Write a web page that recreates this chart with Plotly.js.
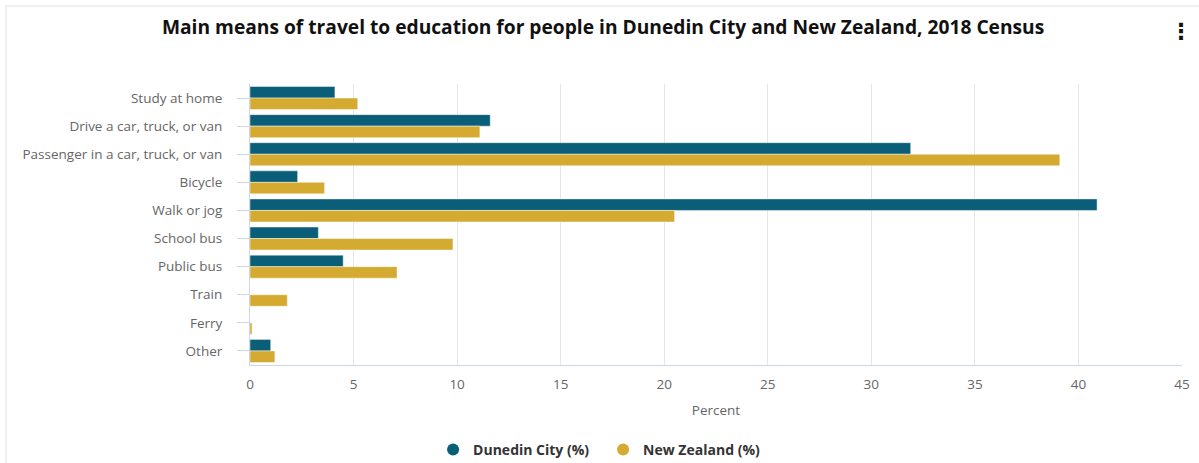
<!DOCTYPE html>
<html>
<head>
<meta charset="utf-8">
<script src="https://cdn.plot.ly/plotly-3.0.1.min.js"></script>
<style>
  html, body { margin: 0; padding: 0; background: #ffffff; }
  #frame { position: absolute; left: 5px; top: 5px; width: 1194px; height: 458px;
           border-left: 2px solid #f0f0f0; border-top: 2px solid #f0f0f0; box-sizing: border-box; }
  #chart { position: absolute; left: 0; top: 0; width: 1199px; height: 463px; }
</style>
</head>
<body>
<div id="frame"></div>
<div id="chart"></div>
<script>
const categories = [
  "Study at home",
  "Drive a car, truck, or van",
  "Passenger in a car, truck, or van",
  "Bicycle",
  "Walk or jog",
  "School bus",
  "Public bus",
  "Train",
  "Ferry",
  "Other"
];
const dunedinCity = [4.1, 11.6, 31.9, 2.3, 40.9, 3.3, 4.5, 0, 0, 1.0];
const newZealand  = [5.2, 11.1, 39.1, 3.6, 20.5, 9.8, 7.1, 1.8, 0.1, 1.2];
const seriesNames = ["Dunedin City (%)", "New Zealand (%)"];
const seriesColors = ["#0b5e77", "#d4ab30"];
const titleText = "Main means of travel to education for people in Dunedin City and New Zealand, 2018 Census";
const xTitle = "Percent";

const font = "'Open Sans', Lato, sans-serif";

const traces = [
  {
    type: "bar", orientation: "h", name: seriesNames[0],
    y: categories, x: dunedinCity, showlegend: false,
    marker: { color: seriesColors[0], line: { color: "rgba(255,255,255,0.45)", width: 1 } },
    hoverinfo: "x+y"
  },
  {
    type: "bar", orientation: "h", name: seriesNames[1],
    y: categories, x: newZealand, showlegend: false,
    marker: { color: seriesColors[1], line: { color: "rgba(255,255,255,0.45)", width: 1 } },
    hoverinfo: "x+y"
  },
  {
    type: "scatter", mode: "markers", name: seriesNames[0],
    x: [null], y: [null], showlegend: true,
    marker: { color: seriesColors[0], size: 16, symbol: "circle" }
  },
  {
    type: "scatter", mode: "markers", name: seriesNames[1],
    x: [null], y: [null], showlegend: true,
    marker: { color: seriesColors[1], size: 16, symbol: "circle" }
  }
];

const layout = {
  width: 1199, height: 463,
  paper_bgcolor: "rgba(0,0,0,0)", plot_bgcolor: "rgba(0,0,0,0)",
  margin: { l: 250, r: 17, t: 84, b: 98, pad: 0 },
  font: { family: font, color: "#666666", size: 13 },
  barmode: "group", bargap: 0.18, bargroupgap: 0,
  title: {
    text: "<b>" + titleText + "</b>",
    font: { family: font, size: 19.2, color: "#111111" },
    xref: "container", x: 0.503, xanchor: "center",
    yref: "container", y: 1 - 27 / 463, yanchor: "middle"
  },
  xaxis: {
    range: [0, 45], dtick: 5, tick0: 0,
    showgrid: true, gridcolor: "#e6e6e6", gridwidth: 1,
    zeroline: false, showline: true, linecolor: "#ccd6eb", linewidth: 1,
    ticks: "", tickfont: { family: font, size: 13.5, color: "#666666" },
    ticklabelstandoff: 7,
    title: { text: xTitle, font: { family: font, size: 13.5, color: "#666666" }, standoff: 13 },
    fixedrange: true
  },
  yaxis: {
    type: "category", autorange: "reversed",
    showgrid: false, zeroline: false,
    showline: true, linecolor: "#ccd6eb", linewidth: 1,
    ticks: "outside", ticklen: 12, tickcolor: "#ccd6eb", tickwidth: 1,
    tickfont: { family: font, size: 13.5, color: "#666666" },
    ticklabelstandoff: 12,
    fixedrange: true
  },
  legend: {
    orientation: "h",
    xref: "container", x: 0.503, xanchor: "center",
    yref: "container", y: 1 - 450 / 463, yanchor: "middle",
    font: { family: font, size: 14, color: "#333333", weight: "bold" },
    itemsizing: "constant", itemwidth: 30, tracegroupgap: 0,
    entrywidth: 125, entrywidthmode: "pixels"
  },
  annotations: [
    {
      xref: "paper", yref: "paper",
      x: (1181 - 250) / 932, y: 1 + (84 - 31) / 281,
      xanchor: "center", yanchor: "middle",
      text: "<b>⋮</b>", showarrow: false,
      font: { family: "DejaVu Sans", size: 22, color: "#111111" }
    }
  ]
};

Plotly.newPlot("chart", traces, layout, { displayModeBar: false, responsive: false });
</script>
</body>
</html>
